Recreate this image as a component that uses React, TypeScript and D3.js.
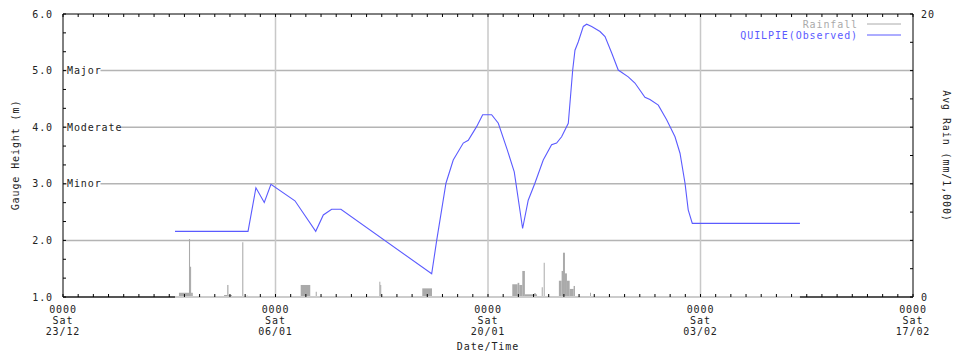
import React from 'react';
import * as d3 from 'd3';

// days counted from Sat 23/12 0000
const tickDays = [0, 14, 28, 42, 56];
const tickTimes = ['0000', '0000', '0000', '0000', '0000'];
const tickWeekdays = ['Sat', 'Sat', 'Sat', 'Sat', 'Sat'];
const tickDates = ['23/12', '06/01', '20/01', '03/02', '17/02'];

const levelTicks = [1, 2, 3, 4, 5, 6];
const floodLevels = [3, 4, 5];
const floodNames = ['Minor', 'Moderate', 'Major'];

// QUILPIE (Observed) gauge height, m
const levelDay = [7.38, 12.19, 12.71, 13.26, 13.7, 15.28, 16.65, 17.15, 17.7, 18.31, 24.29, 24.62, 25.23, 25.71, 26.37, 26.7, 27.25, 27.65, 28.24, 28.68, 29.27, 29.73, 30.28, 30.65, 31.09, 31.64, 32.19, 32.52, 32.85, 33.29, 33.58, 33.73, 33.95, 34.28, 34.5, 34.83, 35.38, 35.71, 36.15, 36.58, 37.24, 37.68, 38.34, 38.67, 39.22, 39.77, 40.32, 40.65, 40.98, 41.19, 41.46, 48.55];
const levelM = [2.16, 2.16, 2.93, 2.67, 2.99, 2.7, 2.16, 2.45, 2.55, 2.55, 1.41, 2.0, 3.01, 3.42, 3.72, 3.77, 4.01, 4.22, 4.22, 4.07, 3.6, 3.21, 2.21, 2.71, 3.01, 3.42, 3.69, 3.72, 3.83, 4.07, 5.01, 5.36, 5.51, 5.78, 5.82, 5.78, 5.69, 5.6, 5.31, 5.01, 4.89, 4.78, 4.53, 4.49, 4.39, 4.13, 3.83, 3.54, 3.01, 2.54, 2.3, 2.3];

// rainfall periods
const rainStart = [7.64, 8.3, 8.37, 8.44, 10.61, 10.82, 10.9, 11.81, 12.1, 15.66, 16.65, 20.84, 20.9, 23.67, 29.6, 29.95, 30.06, 30.26, 30.43, 31.03, 31.16, 31.54, 31.67, 32.67, 32.85, 32.94, 33.07, 33.2, 33.38, 33.64, 34.72];
const rainEnd = [8.3, 8.37, 8.44, 8.55, 10.82, 10.9, 11.13, 11.88, 12.17, 16.29, 16.72, 20.9, 20.96, 24.31, 29.95, 30.06, 30.26, 30.43, 31.03, 31.16, 31.23, 31.6, 31.73, 32.85, 32.94, 33.07, 33.2, 33.38, 33.64, 33.73, 34.78];
const rainMm = [0.3, 4.1, 2.14, 0.3, 0.14, 0.85, 0.14, 3.87, 0.1, 0.85, 0.37, 1.08, 0.85, 0.61, 0.9, 1.0, 0.85, 1.84, 0.19, 0.26, 0.19, 0.69, 2.42, 1.15, 1.84, 3.13, 1.67, 1.15, 0.57, 0.78, 0.3];

const W = 961;
const H = 356;
const left = 63;
const right = 913;
const top = 14;
const bottom = 297;

const font = '"DejaVu Sans Mono", monospace';
const ls = 0.9;
const lineBlue = '#5b5bff';
const rainGrey = '#aaaaaa';

export default function App() {
  const x = d3.scaleLinear().domain([0, 56]).range([left, right]);
  const y = d3.scaleLinear().domain([1, 6]).range([bottom, top]);
  const yRain = d3.scaleLinear().domain([0, 20]).range([bottom, top]);

  const line = d3.line<number>()
    .x((_, i) => x(levelDay[i]))
    .y(d => y(d));

  const dayTicks = d3.range(0, 57);
  const minorLevel = d3.range(1, 6.01, 1 / 3);
  const rainTicks = d3.range(0, 21, 2);

  return (
    <svg width={W} height={H} style={{ position: 'absolute', left: 0, top: 0, background: '#fff' }}
      fontFamily={font} fontSize={10} letterSpacing={ls}>
      {/* horizontal grid */}
      {levelTicks.slice(1, -1).map(v => (
        <line key={'h' + v} x1={left} x2={right} y1={y(v)} y2={y(v)} stroke="#b4b4b4" strokeWidth={1.5} />
      ))}
      {/* vertical grid */}
      {tickDays.slice(1, -1).map(d => (
        <line key={'v' + d} x1={x(d)} x2={x(d)} y1={top} y2={bottom} stroke="#c8c8c8" strokeWidth={1.5} />
      ))}

      {/* flood classes */}
      {floodLevels.map((v, i) => (
        <g key={'f' + v}>
          <rect x={67} y={y(v) - 5} width={floodNames[i].length * 6.9 - 1} height={10} fill="#fff" />
          <text x={67} y={y(v)} dy="0.35em" fill="#222">{floodNames[i]}</text>
        </g>
      ))}

      {/* rainfall */}
      {rainMm.map((v, i) => (
        <rect key={'r' + i} x={x(rainStart[i])}
          width={Math.max(1, x(rainEnd[i]) - x(rainStart[i]))}
          y={yRain(v)} height={yRain(0) - yRain(v)} fill={rainGrey} />
      ))}

      {/* observed level */}
      <path d={line(levelM) || ''} fill="none" stroke={lineBlue} strokeWidth={1.1} />

      {/* frame */}
      <line x1={left} x2={right} y1={top} y2={top} stroke="#000" />
      <line x1={left} x2={left} y1={top} y2={bottom} stroke="#000" />
      <line x1={right} x2={right} y1={top} y2={bottom} stroke="#000" />
      <line x1={left} x2={right} y1={bottom} y2={bottom} stroke="#555" strokeWidth={2} />
      <line x1={x(levelDay[0])} x2={x(levelDay[levelDay.length - 1])} y1={bottom} y2={bottom}
        stroke="#cccccc" strokeWidth={2} />

      {/* day ticks */}
      {dayTicks.map(d => (
        <g key={'t' + d}>
          <line x1={x(d)} x2={x(d)} y1={top} y2={top + 3} stroke="#000" />
          <line x1={x(d)} x2={x(d)} y1={bottom - 3} y2={bottom} stroke="#000" />
        </g>
      ))}
      {minorLevel.map((v, i) => (
        <line key={'m' + i} x1={left} x2={left + 3} y1={y(v)} y2={y(v)} stroke="#000" />
      ))}
      {rainTicks.map(v => (
        <line key={'rt' + v} x1={right - 3} x2={right} y1={yRain(v)} y2={yRain(v)} stroke="#000" />
      ))}

      {/* left axis labels */}
      {levelTicks.map(v => (
        <text key={'yl' + v} x={53} y={y(v)} dy="0.35em" textAnchor="end" fill="#222">
          {d3.format('.1f')(v)}
        </text>
      ))}
      {/* right axis labels */}
      {[0, 20].map(v => (
        <text key={'yr' + v} x={921} y={yRain(v)} dy="0.35em" fill="#222">{v}</text>
      ))}

      {/* x labels */}
      {tickDays.map((d, i) => (
        <g key={'xl' + d} textAnchor="middle" fill="#222">
          <text x={x(d)} y={309} dy="0.35em">{tickTimes[i]}</text>
          <text x={x(d)} y={320} dy="0.35em">{tickWeekdays[i]}</text>
          <text x={x(d)} y={331} dy="0.35em">{tickDates[i]}</text>
        </g>
      ))}
      <text x={488} y={346} dy="0.35em" textAnchor="middle" fill="#222">Date/Time</text>

      {/* axis titles */}
      <text transform="translate(15,155) rotate(-90)" textAnchor="middle" dy="0.35em" fill="#222">
        Gauge Height (m)
      </text>
      <text transform="translate(946,156) rotate(90)" textAnchor="middle" dy="0.35em" fill="#222">
        Avg Rain (mm/1,000)
      </text>

      {/* legend */}
      <text x={858} y={24} dy="0.35em" textAnchor="end" fill={rainGrey}>Rainfall</text>
      <line x1={867} x2={901} y1={24} y2={24} stroke={rainGrey} />
      <text x={858} y={35} dy="0.35em" textAnchor="end" fill={lineBlue}>QUILPIE(Observed)</text>
      <line x1={867} x2={901} y1={35} y2={35} stroke={lineBlue} />
    </svg>
  );
}
